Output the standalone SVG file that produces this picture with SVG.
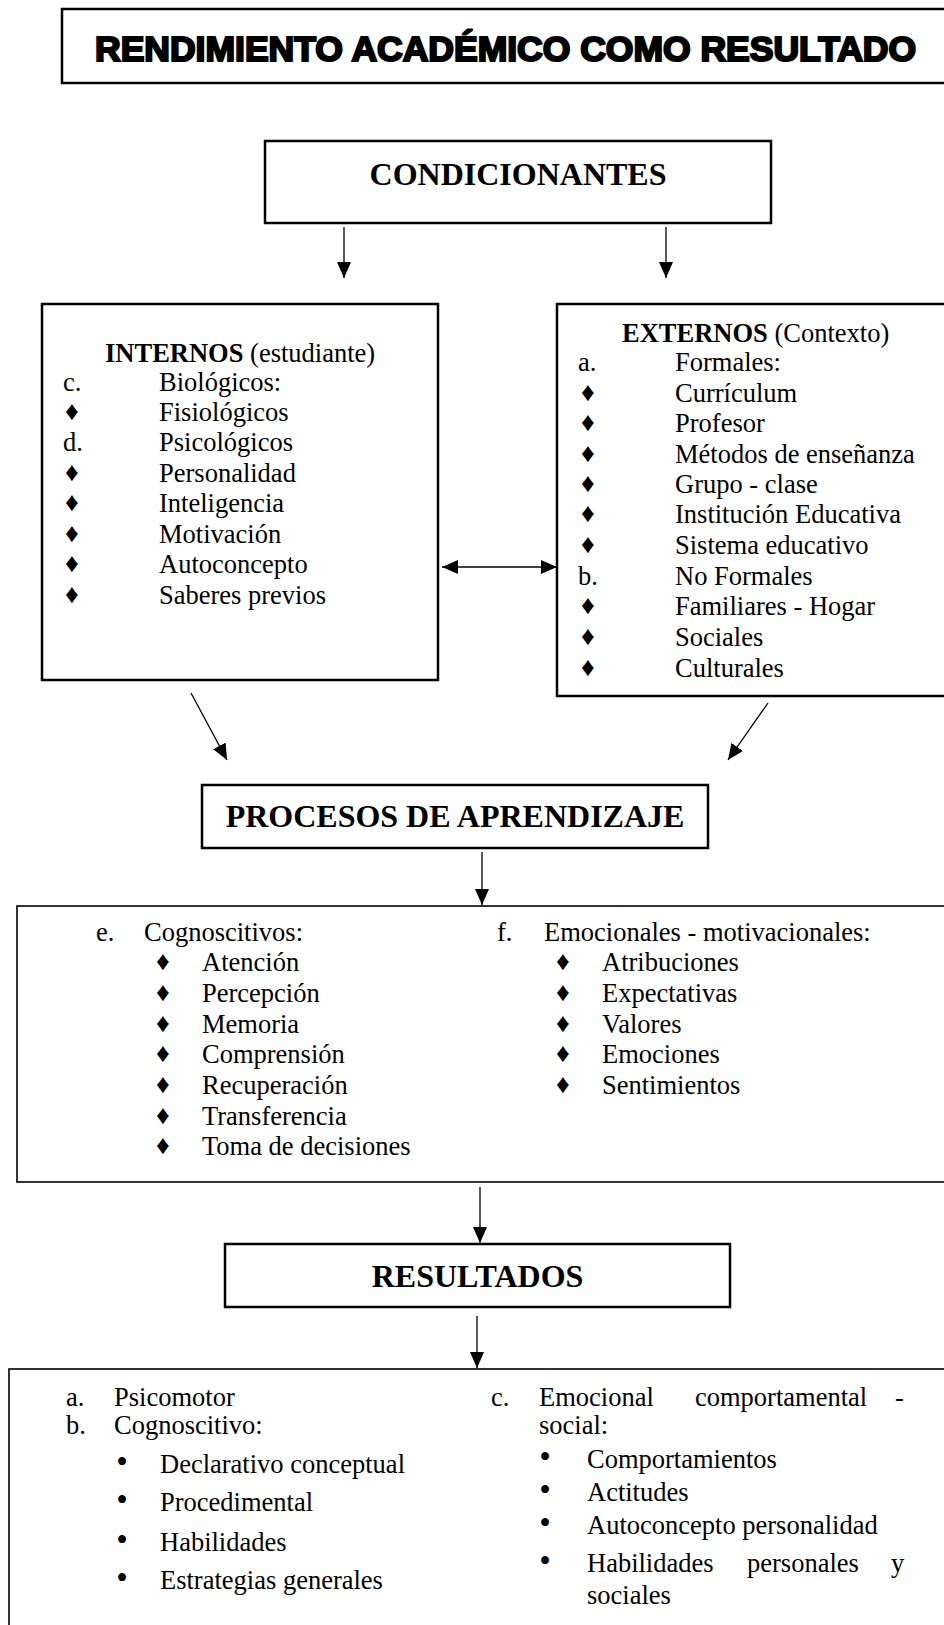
<svg xmlns="http://www.w3.org/2000/svg" width="944" height="1625" viewBox="0 0 944 1625">
<defs>
<marker id="ah" viewBox="0 0 16 14" refX="16" refY="7" markerWidth="16" markerHeight="14" markerUnits="userSpaceOnUse" orient="auto-start-reverse">
<path d="M0,0 L16,7 L0,14 Z" fill="#000"/>
</marker>
<style>
.box{fill:#fff;stroke:#000;stroke-width:2.5}
.lbox{fill:#fff;stroke:#000;stroke-width:1.6}
.t{font-family:"Liberation Serif","Times New Roman",serif;font-size:26.5px;fill:#000}
.b{font-weight:bold}
.h{font-family:"Liberation Serif","Times New Roman",serif;font-size:32px;font-weight:bold;fill:#000;text-anchor:middle}
.dia{font-family:"Liberation Serif","DejaVu Sans",serif;font-size:27px;fill:#000;text-anchor:middle}
.dot{font-family:"Liberation Serif",serif;font-size:33px;fill:#000;text-anchor:middle}
.ar{stroke:#000;stroke-width:1.3;fill:none;marker-end:url(#ah)}
</style>
</defs>
<rect width="944" height="1625" fill="#fff"/>

<g id="title">
<rect class="box" x="62" y="9" width="920" height="74" stroke-width="3"/>
<text x="95" y="61" font-family="'Liberation Sans',Arial,sans-serif" font-weight="bold" font-size="35.5" stroke="#000" stroke-width="2.2" fill="#000">RENDIMIENTO ACADÉMICO COMO RESULTADO</text>
</g>

<g id="condicionantes">
<rect class="box" x="265" y="141" width="506" height="82"/>
<text class="h" x="518" y="185">CONDICIONANTES</text>
</g>

<g id="internos">
<rect class="box" x="42" y="304" width="396" height="376"/>
<text class="t" x="105" y="362"><tspan class="b">INTERNOS</tspan> (estudiante)</text>
<text class="t" x="63" y="391">c.</text><text class="t" x="159" y="391">Biológicos:</text>
<text class="dia" x="72" y="420">♦</text><text class="t" x="159" y="421">Fisiológicos</text>
<text class="t" x="63" y="451">d.</text><text class="t" x="159" y="451">Psicológicos</text>
<text class="dia" x="72" y="481">♦</text><text class="t" x="159" y="482">Personalidad</text>
<text class="dia" x="72" y="511">♦</text><text class="t" x="159" y="512">Inteligencia</text>
<text class="dia" x="72" y="542">♦</text><text class="t" x="159" y="543">Motivación</text>
<text class="dia" x="72" y="572">♦</text><text class="t" x="159" y="573">Autoconcepto</text>
<text class="dia" x="72" y="603">♦</text><text class="t" x="159" y="604">Saberes previos</text>
</g>

<g id="externos">
<rect class="box" x="557" y="304" width="420" height="392"/>
<text class="t" x="622" y="342"><tspan class="b">EXTERNOS</tspan> (Contexto)</text>
<text class="t" x="578" y="371">a.</text><text class="t" x="675" y="371">Formales:</text>
<text class="dia" x="588" y="401">♦</text><text class="t" x="675" y="402">Currículum</text>
<text class="dia" x="588" y="431">♦</text><text class="t" x="675" y="432">Profesor</text>
<text class="dia" x="588" y="462">♦</text><text class="t" x="675" y="463">Métodos de enseñanza</text>
<text class="dia" x="588" y="492">♦</text><text class="t" x="675" y="493">Grupo - clase</text>
<text class="dia" x="588" y="522">♦</text><text class="t" x="675" y="523">Institución Educativa</text>
<text class="dia" x="588" y="553">♦</text><text class="t" x="675" y="554">Sistema educativo</text>
<text class="t" x="578" y="585">b.</text><text class="t" x="675" y="585">No Formales</text>
<text class="dia" x="588" y="614">♦</text><text class="t" x="675" y="615">Familiares - Hogar</text>
<text class="dia" x="588" y="645">♦</text><text class="t" x="675" y="646">Sociales</text>
<text class="dia" x="588" y="676">♦</text><text class="t" x="675" y="677">Culturales</text>
</g>

<g id="procesos">
<rect class="box" x="202" y="785" width="506" height="63"/>
<text class="h" x="455" y="827">PROCESOS DE APRENDIZAJE</text>
</g>

<g id="procesos-lista">
<rect class="lbox" x="17" y="906" width="960" height="276"/>
<text class="t" x="96" y="941">e.</text><text class="t" x="144" y="941">Cognoscitivos:</text>
<text class="dia" x="163" y="970">♦</text><text class="t" x="202" y="971">Atención</text>
<text class="dia" x="163" y="1001">♦</text><text class="t" x="202" y="1002">Percepción</text>
<text class="dia" x="163" y="1032">♦</text><text class="t" x="202" y="1033">Memoria</text>
<text class="dia" x="163" y="1062">♦</text><text class="t" x="202" y="1063">Comprensión</text>
<text class="dia" x="163" y="1093">♦</text><text class="t" x="202" y="1094">Recuperación</text>
<text class="dia" x="163" y="1124">♦</text><text class="t" x="202" y="1125">Transferencia</text>
<text class="dia" x="163" y="1154">♦</text><text class="t" x="202" y="1155">Toma de decisiones</text>
<text class="t" x="497" y="941">f.</text><text class="t" x="544" y="941">Emocionales - motivacionales:</text>
<text class="dia" x="563" y="970">♦</text><text class="t" x="602" y="971">Atribuciones</text>
<text class="dia" x="563" y="1001">♦</text><text class="t" x="602" y="1002">Expectativas</text>
<text class="dia" x="563" y="1032">♦</text><text class="t" x="602" y="1033">Valores</text>
<text class="dia" x="563" y="1062">♦</text><text class="t" x="602" y="1063">Emociones</text>
<text class="dia" x="563" y="1093">♦</text><text class="t" x="602" y="1094">Sentimientos</text>
</g>

<g id="resultados">
<rect class="box" x="225" y="1244" width="505" height="63"/>
<text class="h" x="477.5" y="1287">RESULTADOS</text>
</g>

<g id="resultados-lista">
<rect class="lbox" x="9" y="1369" width="970" height="280"/>
<text class="t" x="66" y="1406">a.</text><text class="t" x="114" y="1406">Psicomotor</text>
<text class="t" x="66" y="1434">b.</text><text class="t" x="114" y="1434">Cognoscitivo:</text>
<text class="dot" x="122" y="1473">•</text><text class="t" x="160" y="1473">Declarativo conceptual</text>
<text class="dot" x="122" y="1511">•</text><text class="t" x="160" y="1511">Procedimental</text>
<text class="dot" x="122" y="1551">•</text><text class="t" x="160" y="1551">Habilidades</text>
<text class="dot" x="122" y="1589">•</text><text class="t" x="160" y="1589">Estrategias generales</text>
<text class="t" x="491" y="1406">c.</text><text class="t" x="539" y="1406">Emocional</text><text class="t" x="695" y="1406">comportamental</text><text class="t" x="895" y="1406">-</text>
<text class="t" x="539" y="1434">social:</text>
<text class="dot" x="545" y="1468">•</text><text class="t" x="587" y="1468">Comportamientos</text>
<text class="dot" x="545" y="1501">•</text><text class="t" x="587" y="1501">Actitudes</text>
<text class="dot" x="545" y="1534">•</text><text class="t" x="587" y="1534">Autoconcepto personalidad</text>
<text class="dot" x="545" y="1572">•</text><text class="t" x="587" y="1572">Habilidades</text><text class="t" x="747" y="1572">personales</text><text class="t" x="891" y="1572">y</text>
<text class="t" x="587" y="1604">sociales</text>
</g>

<g id="connectors">
<line class="ar" x1="344" y1="227" x2="344" y2="278"/>
<line class="ar" x1="666" y1="227" x2="666" y2="278"/>
<line class="ar" x1="442" y1="567" x2="557" y2="567" style="marker-start:url(#ah)"/>
<line class="ar" x1="191" y1="693" x2="227" y2="760"/>
<line class="ar" x1="768" y1="703" x2="728" y2="760"/>
<line class="ar" x1="482" y1="852" x2="482" y2="905"/>
<line class="ar" x1="480" y1="1187" x2="480" y2="1243"/>
<line class="ar" x1="477" y1="1316" x2="477" y2="1368"/>
</g>
</svg>
